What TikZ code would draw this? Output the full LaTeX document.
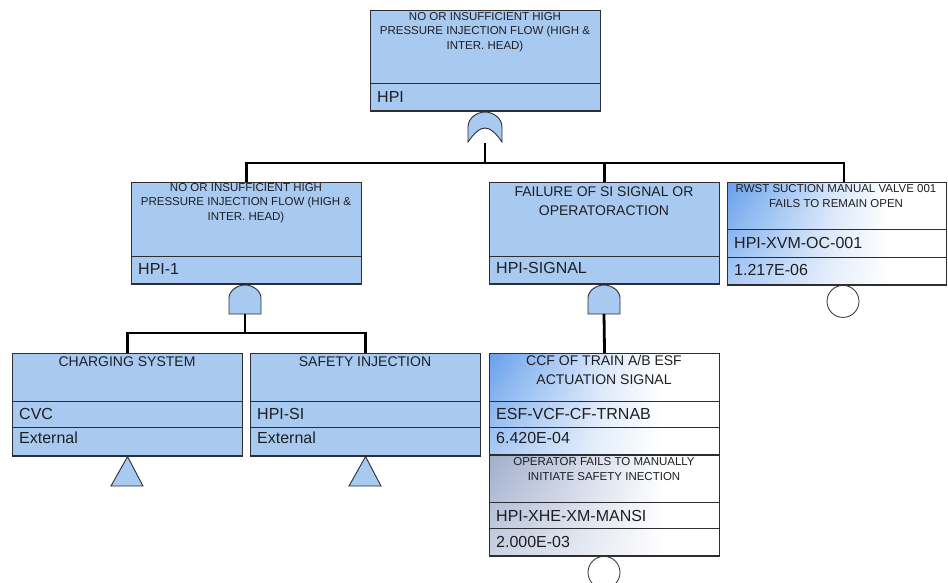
\documentclass[tikz,border=0pt]{standalone}
\usepackage{fontspec}
\setmainfont{Liberation Sans}
\usetikzlibrary{fadings}
\definecolor{hpiblue}{RGB}{168,202,240}
\definecolor{bevblue}{RGB}{104,160,236}
\definecolor{bevmid}{RGB}{152,192,242}
\definecolor{bevlight}{RGB}{214,229,250}
\definecolor{bevgray}{RGB}{160,174,204}
\definecolor{bevgmid}{RGB}{188,198,220}
\definecolor{bevglight}{RGB}{222,227,238}
\definecolor{edge}{RGB}{45,45,50}
\definecolor{txt}{RGB}{30,30,35}
\pgfdeclarehorizontalshading{bevshadeA}{100bp}{color(0bp)=(bevblue); color(25bp)=(bevblue); color(36bp)=(bevmid); color(49bp)=(bevlight); color(62bp)=(white); color(100bp)=(white)}
\pgfdeclarehorizontalshading{bevshadeB}{100bp}{color(0bp)=(bevgray); color(25bp)=(bevgray); color(37bp)=(bevgmid); color(50bp)=(bevglight); color(63bp)=(white); color(100bp)=(white)}
\tikzset{
  whiten/.style={path picture={\fill[white, path fading=north, opacity=0.45] (path picture bounding box.south west) rectangle (path picture bounding box.north east);}},
  evbox/.style={draw=edge, line width=1.1pt, fill=hpiblue, rectangle, inner sep=0pt, anchor=north west},
  bebox/.style={draw=edge, line width=1.1pt, shading=bevshadeA, whiten, rectangle, inner sep=0pt, anchor=north west},
  bebox2/.style={draw=edge, line width=1.1pt, shading=bevshadeB, whiten, rectangle, inner sep=0pt, anchor=north west},
  divline/.style={draw=edge, line width=0.9pt},
  shadowline/.style={draw=edge, line width=2pt},
  conn/.style={draw=black, line width=2.8pt},
  gatest/.style={draw=edge, line width=0.9pt, fill=hpiblue},
  circst/.style={draw=edge, line width=0.8pt, fill=white, circle, minimum size=32pt, inner sep=0pt},
  smalltitle/.style={font=\fontsize{11.5}{14.5}\selectfont, align=center, text=txt, inner sep=0pt},
  bigtitle/.style={font=\fontsize{14}{18.5}\selectfont, align=center, text=txt, inner sep=0pt},
  rowtext/.style={font=\fontsize{16}{18}\selectfont, anchor=west, text=txt, inner sep=0pt},
}
\begin{document}
\begin{tikzpicture}[x=1pt,y=-1pt]
\useasboundingbox (0,0) rectangle (948,582);

% ---- boxes ----
\node[evbox, minimum width=230pt, minimum height=100pt] (top) at (370,10) {};
\draw[divline] (370,83) -- (600,83);
\node[evbox, minimum width=230pt, minimum height=101pt] (hpi1) at (131,182) {};
\draw[divline] (131,256) -- (361,256);
\node[evbox, minimum width=230pt, minimum height=101pt] (sig) at (489,182) {};
\draw[divline] (489,256) -- (719,256);
\node[bebox, minimum width=219pt, minimum height=102pt] (rwst) at (727,182) {};
\draw[divline] (727,229) -- (946,229);
\draw[divline] (727,257) -- (946,257);
\node[evbox, minimum width=230pt, minimum height=102pt] (cvc) at (12,353) {};
\draw[divline] (12,401) -- (242,401);
\draw[divline] (12,427) -- (242,427);
\node[evbox, minimum width=230pt, minimum height=102pt] (si) at (250,353) {};
\draw[divline] (250,401) -- (480,401);
\draw[divline] (250,427) -- (480,427);
\node[bebox, minimum width=230pt, minimum height=101pt] (ccf) at (489,353) {};
\draw[divline] (489,401) -- (719,401);
\draw[divline] (489,427) -- (719,427);
\node[bebox2, minimum width=230pt, minimum height=101pt] (oper) at (489,454) {};
\draw[divline] (489,502) -- (719,502);
\draw[divline] (489,528) -- (719,528);

% heavier bottom edges
\foreach \b in {top,hpi1,sig,rwst,cvc,si,ccf,oper}
  \draw[shadowline] (\b.south west) -- (\b.south east);

% ---- texts ----
\node[smalltitle] (ttop) at (485,32) {NO OR INSUFFICIENT HIGH\\PRESSURE INJECTION FLOW (HIGH \&\\INTER. HEAD)};
\node[rowtext] (rtop) at (377,97) {HPI};
\node[smalltitle] (thpi1) at (246,203) {NO OR INSUFFICIENT HIGH\\PRESSURE INJECTION FLOW (HIGH \&\\INTER. HEAD)};
\node[rowtext] (rhpi1) at (138,269) {HPI-1};
\node[bigtitle] (tsig) at (604,201) {FAILURE OF SI SIGNAL OR\\OPERATORACTION};
\node[rowtext] (rsig) at (496,268) {HPI-SIGNAL};
\node[smalltitle] (trwst) at (836,196) {RWST SUCTION MANUAL VALVE 001\\FAILS TO REMAIN OPEN};
\node[rowtext] (rrwst1) at (734,243) {HPI-XVM-OC-001};
\node[rowtext] (rrwst2) at (734,270) {1.217E-06};
\node[bigtitle] (tcvc) at (127,362) {CHARGING SYSTEM};
\node[rowtext] (rcvc1) at (19,414) {CVC};
\node[rowtext] (rcvc2) at (19,438) {External};
\node[bigtitle] (tsi) at (365,362) {SAFETY INJECTION};
\node[rowtext] (rsi1) at (257,414) {HPI-SI};
\node[rowtext] (rsi2) at (257,438) {External};
\node[bigtitle] (tccf) at (604,370) {CCF OF TRAIN A/B ESF\\ACTUATION SIGNAL};
\node[rowtext] (rccf1) at (496,414) {ESF-VCF-CF-TRNAB};
\node[rowtext] (rccf2) at (496,438) {6.420E-04};
\node[smalltitle] (toper) at (604,469) {OPERATOR FAILS TO MANUALLY\\INITIATE SAFETY INECTION};
\node[rowtext] (roper1) at (496,516) {HPI-XHE-XM-MANSI};
\node[rowtext] (roper2) at (496,542) {2.000E-03};

% ---- gates ----
% OR gate under top event
\begin{scope}[shift={(485,111)}]
\draw[gatest] (-17,31) -- (-17,16) .. controls (-17,7) and (-8,1) .. (0,1) .. controls (8,1) and (17,7) .. (17,16) -- (17,31)
  .. controls (11,22) and (5,17) .. (0,17) .. controls (-5,17) and (-11,22) .. (-17,31) -- cycle;
\end{scope}
\coordinate (orout) at (485,143);
% AND gate under HPI-1
\begin{scope}[shift={(245,284)}]
\draw[gatest] (-16,30) -- (-16,14) .. controls (-16,7) and (-8,1) .. (0,1) .. controls (8,1) and (16,7) .. (16,14) -- (16,30) -- cycle;
\end{scope}
\coordinate (and1out) at (245,314);
% AND gate under HPI-SIGNAL
\begin{scope}[shift={(604,284)}]
\draw[gatest] (-16,30) -- (-16,14) .. controls (-16,7) and (-8,1) .. (0,1) .. controls (8,1) and (16,7) .. (16,14) -- (16,30) -- cycle;
\end{scope}
\coordinate (and2out) at (604,314);

% ---- connectors ----
\coordinate (bar0) at (485,163);
\coordinate (bar1) at (245,333);
\coordinate (rwstin) at (844,182);
\draw[conn] (orout) -- (bar0);
\draw[conn] (bar0) -| (hpi1.north);
\draw[conn] (bar0) -| (sig.north);
\draw[conn] (bar0) -| (rwstin);
\draw[conn] (and1out) -- (bar1);
\draw[conn] (bar1) -| (cvc.north);
\draw[conn] (bar1) -| (si.north);
\draw[conn] (and2out) -- (ccf.north);

% ---- transfer triangles ----
\path[gatest] ([yshift=-0.5pt]cvc.south) -- (143,486) -- (111,486) -- cycle;
\path[gatest] ([yshift=-0.5pt]si.south) -- (381,486) -- (349,486) -- cycle;

% ---- basic event circles ----
\node[circst, anchor=north] (c1) at (843,285) {};
\node[circst, anchor=north] (c2) at (604,556) {};
\end{tikzpicture}
\end{document}
